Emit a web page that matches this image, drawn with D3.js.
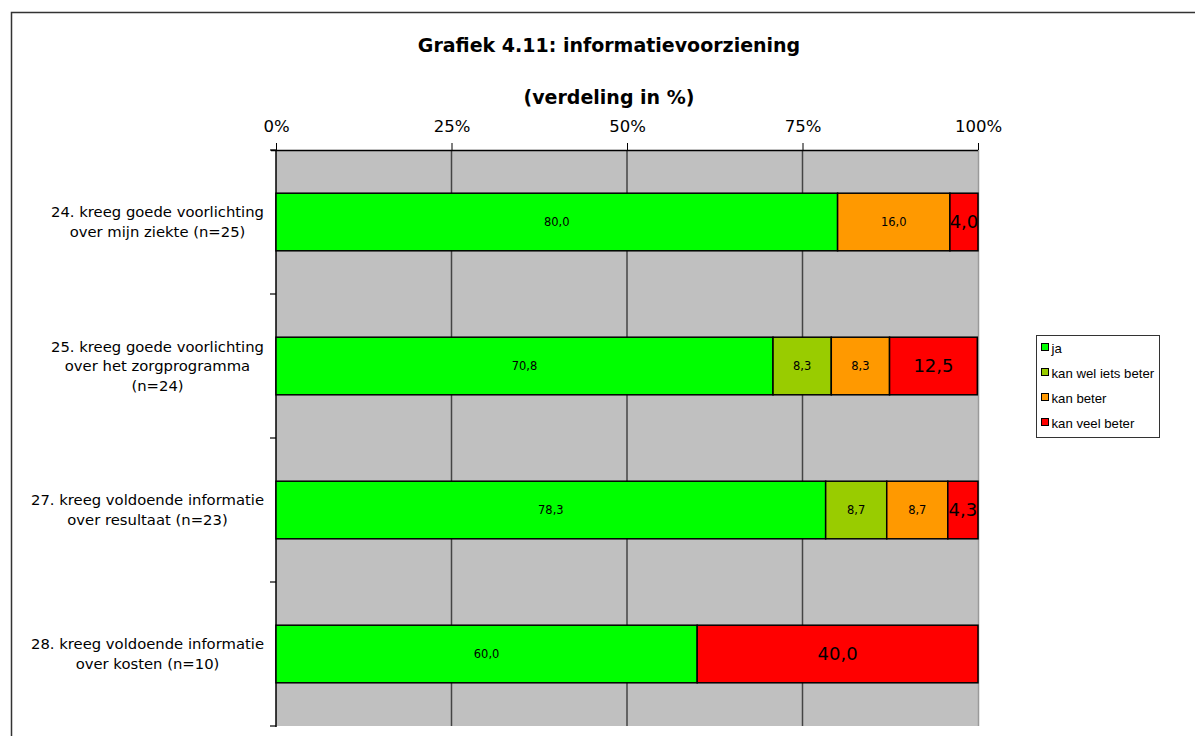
<!DOCTYPE html>
<html>
<head>
<meta charset="utf-8">
<script src="https://cdn.jsdelivr.net/npm/d3@7/dist/d3.min.js"></script>
<style>
  html, body { margin: 0; padding: 0; background: #fff; }
  svg { display: block; }
</style>
</head>
<body>
<svg id="chart" width="1195" height="736"></svg>
<script>
// Statements (one row per bar), each as separate label lines
const categories = [
  ["24. kreeg goede voorlichting", "over mijn ziekte (n=25)"],
  ["25. kreeg goede voorlichting", "over het zorgprogramma", "(n=24)"],
  ["27. kreeg voldoende informatie", "over resultaat (n=23)"],
  ["28. kreeg voldoende informatie", "over kosten (n=10)"]
];
const seriesNames = ["ja", "kan wel iets beter", "kan beter", "kan veel beter"];
const seriesColors = ["#00ff00", "#99cc00", "#ff9900", "#ff0000"];
// Percentages per series, in category order
const ja              = [80.0, 70.8, 78.3, 60.0];
const kanWelIetsBeter = [0,    8.3,  8.7,  0];
const kanBeter        = [16.0, 8.3,  8.7,  0];
const kanVeelBeter    = [4.0,  12.5, 4.3,  40.0];
const tickValues = [0, 25, 50, 75, 100];
const tickLabels = ["0%", "25%", "50%", "75%", "100%"];

const series = [ja, kanWelIetsBeter, kanBeter, kanVeelBeter];

const svg = d3.select("#chart");
const font = "'DejaVu Sans', Verdana, sans-serif";

// Outer chart frame
svg.append("path")
  .attr("d", "M11.5,736 L11.5,12.5 L1195,12.5")
  .attr("fill", "none").attr("stroke", "#333").attr("stroke-width", 1.5);

// Titles
svg.append("text").attr("x", 609).attr("y", 52)
  .attr("text-anchor", "middle").attr("font-family", font)
  .attr("font-weight", "bold").attr("font-size", 19)
  .text("Grafiek 4.11: informatievoorziening");
svg.append("text").attr("x", 609).attr("y", 104)
  .attr("text-anchor", "middle").attr("font-family", font)
  .attr("font-weight", "bold").attr("font-size", 19)
  .text("(verdeling in %)");

const plot = { left: 276, right: 978, top: 150, bottom: 726 };

const x = d3.scaleLinear().domain([0, 100]).range([plot.left, plot.right]);
const y = d3.scaleBand().domain(d3.range(categories.length))
  .range([plot.top, plot.bottom]).paddingInner(0.6).paddingOuter(0.3);
const yOuter = d3.scaleBand().domain(d3.range(categories.length))
  .range([plot.top, plot.bottom]);

// Plot background
svg.append("rect")
  .attr("x", plot.left).attr("y", plot.top)
  .attr("width", plot.right - plot.left).attr("height", plot.bottom - plot.top)
  .attr("fill", "#c0c0c0");
svg.append("line")
  .attr("x1", plot.right + 0.5).attr("x2", plot.right + 0.5)
  .attr("y1", plot.top).attr("y2", plot.bottom)
  .attr("stroke", "#9a9a9a").attr("stroke-width", 1.5);

// Vertical gridlines
svg.append("g").selectAll("line")
  .data(tickValues.filter(v => v > 0 && v < 100))
  .join("line")
  .attr("x1", d => x(d)).attr("x2", d => x(d))
  .attr("y1", plot.top).attr("y2", plot.bottom)
  .attr("stroke", "#444").attr("stroke-width", 1.5);

// Top axis
const xAxis = d3.axisTop(x).tickValues(tickValues)
  .tickFormat((d, i) => tickLabels[i]).tickSize(7).tickSizeOuter(0).tickPadding(11);
const gx = svg.append("g").attr("transform", `translate(0,${plot.top})`).call(xAxis);
gx.select(".domain").attr("d", `M${plot.left - 5},0.5H${plot.right}`)
  .attr("stroke", "#000").attr("stroke-width", 1.5);
gx.selectAll(".tick line").attr("stroke", "#000");
gx.selectAll(".tick text").attr("font-family", font).attr("font-size", 16.5).attr("fill", "#000");

// Left axis with ticks at category boundaries
const gy = svg.append("g");
gy.append("line")
  .attr("x1", plot.left).attr("x2", plot.left)
  .attr("y1", plot.top).attr("y2", plot.bottom + 1)
  .attr("stroke", "#000").attr("stroke-width", 1.5);
gy.selectAll("line.tk")
  .data(d3.range(categories.length + 1))
  .join("line").attr("class", "tk")
  .attr("x1", plot.left - 6).attr("x2", plot.left)
  .attr("y1", d => d < categories.length ? yOuter(d) : plot.bottom)
  .attr("y2", d => d < categories.length ? yOuter(d) : plot.bottom)
  .attr("stroke", "#000").attr("stroke-width", 1.2);

// Category labels: lines centred within a block whose right edge sits left of the axis
const lineH = 19.5;
const labelRight = 264;
categories.forEach((lines, i) => {
  const cy = y(i) + y.bandwidth() / 2;
  const t = svg.append("text")
    .attr("text-anchor", "middle").attr("font-family", font)
    .attr("font-size", 14.8).attr("fill", "#000");
  const spans = lines.map((ln, j) => t.append("tspan")
    .attr("y", cy + (j - (lines.length - 1) / 2) * lineH + 5)
    .text(ln));
  const maxW = d3.max(spans, s => s.node().getComputedTextLength());
  spans.forEach(s => s.attr("x", labelRight - maxW / 2));
});

// Stacked bars
const stacked = categories.map((_, i) => {
  let acc = 0;
  return series.map((s, k) => {
    const seg = { i, k, x0: acc, x1: acc + s[i], v: s[i] };
    acc += s[i];
    return seg;
  }).filter(d => d.v > 0);
}).flat();

svg.append("g").selectAll("rect")
  .data(stacked).join("rect")
  .attr("x", d => x(d.x0)).attr("y", d => y(d.i))
  .attr("width", d => x(d.x1) - x(d.x0)).attr("height", y.bandwidth())
  .attr("fill", d => seriesColors[d.k])
  .attr("stroke", "#000").attr("stroke-width", 1.5);

// Value labels
const fmt = v => v.toFixed(1).replace(".", ",");
svg.append("g").selectAll("text")
  .data(stacked).join("text")
  .attr("x", d => (x(d.x0) + x(d.x1)) / 2)
  .attr("y", d => y(d.i) + y.bandwidth() / 2)
  .attr("dy", "0.36em")
  .attr("text-anchor", "middle").attr("font-family", font)
  .attr("font-size", d => d.k === 3 ? 18 : 11.5)
  .attr("fill", "#000")
  .text(d => fmt(d.v));

// Legend
const legend = svg.append("g");
legend.append("rect")
  .attr("x", 1036.5).attr("y", 335.5).attr("width", 123).attr("height", 102)
  .attr("fill", "#fff").attr("stroke", "#333").attr("stroke-width", 1);
seriesNames.forEach((name, k) => {
  const ly = 348 + k * 25;
  legend.append("rect")
    .attr("x", 1041.5).attr("y", ly - 4.5).attr("width", 7).attr("height", 7)
    .attr("fill", seriesColors[k]).attr("stroke", "#000").attr("stroke-width", 1);
  legend.append("text")
    .attr("x", 1051.5).attr("y", ly + 4.5)
    .attr("font-family", "'Liberation Sans', Arial, sans-serif")
    .attr("font-size", 13.2).attr("fill", "#000")
    .text(name);
});
</script>
</body>
</html>
